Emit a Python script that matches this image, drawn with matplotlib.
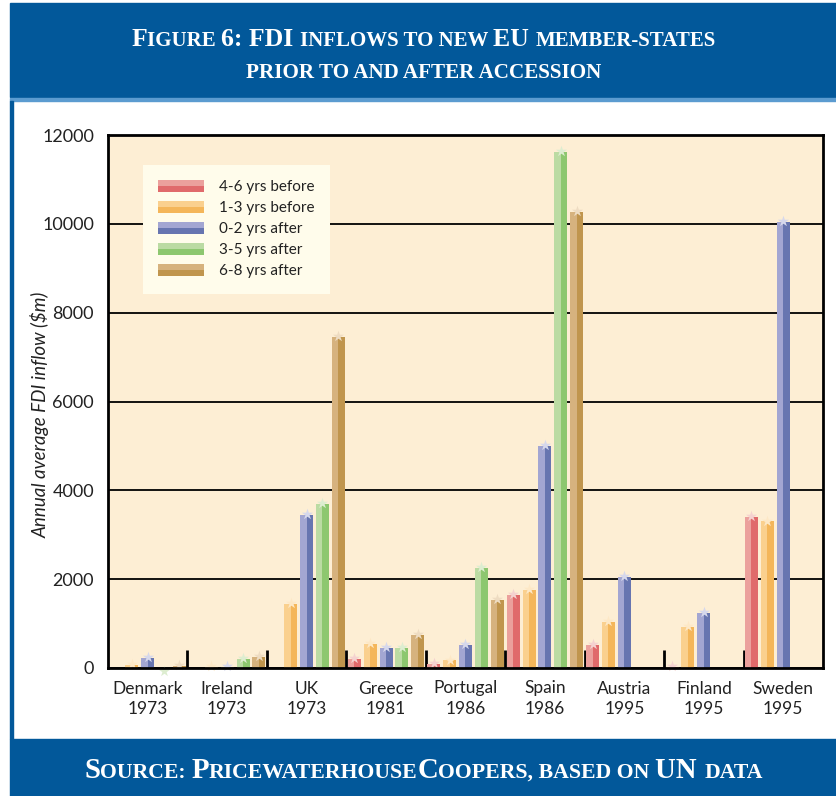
import matplotlib.pyplot as plt
import numpy as np
from matplotlib.patches import Rectangle, Patch
from matplotlib.legend_handler import HandlerBase

nan = np.nan
countries = ["Denmark\n1973", "Ireland\n1973", "UK\n1973", "Greece\n1981", "Portugal\n1986",
             "Spain\n1986", "Austria\n1995", "Finland\n1995", "Sweden\n1995"]
series = ["4-6 yrs before", "1-3 yrs before", "0-2 yrs after", "3-5 yrs after", "6-8 yrs after"]
before_4_6 = [nan, nan, nan, 200, 100, 1640, 520, 30, 3400]
before_1_3 = [70, 20, 1450, 550, 170, 1750, 1040, 920, 3300]
after_0_2 = [220, 30, 3450, 450, 520, 5000, 2050, 1240, 10050]
after_3_5 = [-90, 200, 3700, 450, 2250, 11620, nan, nan, nan]
after_6_8 = [50, 250, 7450, 750, 1530, 10270, nan, nan, nan]
values = [before_4_6, before_1_3, after_0_2, after_3_5, after_6_8]
yticks = [0, 2000, 4000, 6000, 8000, 10000, 12000]

light = ["#EBA09C", "#FAD08E", "#A3A6D2", "#BBDBA3", "#D6B27E"]
dark = ["#E06A6B", "#F4B65A", "#6775B0", "#8DC76F", "#C0954D"]
star = ["#F5D2D0", "#FDE8C6", "#D6D8EC", "#DDEDD0", "#EEDCC2"]

blue = "#02589A"
plt.rcParams['font.family'] = ['Lato', 'DejaVu Sans']

fig = plt.figure(figsize=(8.37, 7.96), dpi=100)
W, H = 837, 796

def px(x0, y0, w, h, **kw):
    fig.patches.append(Rectangle((x0 / W, 1 - (y0 + h) / H), w / W, h / H,
                                 transform=fig.transFigure, **kw))

px(10, 3, 827, 94, color=blue, zorder=0)
px(10, 98, 827, 3, color="#5B9BD0", zorder=0)
px(10, 101, 3, 638, color=blue, zorder=0)
px(10, 739, 827, 57, color=blue, zorder=0)

renderer = fig.canvas.get_renderer()

def smallcaps(segments, ycenter, big, small):
    texts = []
    for s, is_big in segments:
        t = fig.text(0, 1 - ycenter / H, s, fontsize=big if is_big else small,
                     family='Liberation Serif', weight='bold', color='white',
                     va='baseline', ha='left')
        texts.append(t)
    widths = [t.get_window_extent(renderer).width for t in texts]
    total = sum(widths)
    x = (W + 10) / 2 - total / 2
    for t, w in zip(texts, widths):
        t.set_x(x / W)
        x += w

smallcaps([("F", 1), ("IGURE ", 0), ("6: FDI ", 1), ("INFLOWS TO NEW ", 0), ("EU ", 1),
           ("MEMBER-STATES", 0)], 46, 18.5, 15)
smallcaps([("PRIOR TO AND AFTER ACCESSION", 0)], 78, 18.5, 15.2)
smallcaps([("S", 1), ("OURCE: ", 0), ("P", 1), ("RICEWATERHOUSE", 0), ("C", 1),
           ("OOPERS, BASED ON ", 0), ("UN ", 1), ("DATA", 0)], 778, 20.7, 15.7)

ax = fig.add_axes([108 / W, 1 - 668 / H, 715 / W, 533 / H])
ax.set_facecolor("#FDEED4")
x = np.arange(len(countries))
slot = 0.2
bw = 0.165
for i, vals in enumerate(values):
    v = np.array(vals, dtype=float)
    pos = x + (i - 2) * slot
    ok = ~np.isnan(v)
    ax.bar(pos[ok] - bw / 4, v[ok], width=bw / 2, color=light[i], zorder=3)
    ax.bar(pos[ok] + bw / 4, v[ok], width=bw / 2, color=dark[i], zorder=3)
    ax.scatter(pos[ok], v[ok] + 20, marker='*', s=70, color=star[i], zorder=4,
               clip_on=False, linewidths=0)

ax.set_xlim(-0.5, len(countries) - 0.5)
ax.set_ylim(0, 12000)
ax.set_yticks(yticks)
ax.set_yticklabels([str(t) for t in yticks])
ax.yaxis.grid(True, color='black', linewidth=1.3, zorder=1)
ax.set_axisbelow(True)
ax.tick_params(axis='y', length=0, pad=10, labelsize=13, labelcolor='#222222')
ax.set_xticks(x)
ax.set_xticklabels(countries, linespacing=1.35)
ax.tick_params(axis='x', length=0, pad=9, labelsize=12.5, labelcolor='#222222')
ax.set_xticks(np.arange(0.5, len(countries) - 1), minor=True)
ax.tick_params(axis='x', which='minor', direction='in', length=13, width=2, color='black')
for s in ax.spines.values():
    s.set_linewidth(2)
    s.set_zorder(5)
ax.set_ylabel("Annual average FDI inflow ($m)", fontsize=13.5, style='italic',
              color='#222222', va='center')
ax.yaxis.set_label_coords(-0.095, 0.475)


class TwoTone(HandlerBase):
    def create_artists(self, legend, orig_handle, xd, yd, width, height, fontsize, trans):
        lo, hi = orig_handle
        top = Rectangle((-xd, -yd + height / 2), width, height / 2,
                        facecolor=lo.get_facecolor(), edgecolor='none', transform=trans)
        bot = Rectangle((-xd, -yd), width, height / 2,
                        facecolor=hi.get_facecolor(), edgecolor='none', transform=trans)
        return [top, bot]


handles = [(Patch(color=light[i]), Patch(color=dark[i])) for i in range(len(series))]
leg = ax.legend(handles, series, handler_map={tuple: TwoTone()}, loc='upper left',
                bbox_to_anchor=(0.049, 0.944), borderaxespad=0, fontsize=11,
                handlelength=3.0, handleheight=0.8, labelspacing=0.45,
                handletextpad=1.0, borderpad=1.0, fancybox=False, framealpha=1,
                facecolor="#FFFCEB", edgecolor='none')
for t in leg.get_texts():
    t.set_color('#222222')
leg.set_zorder(6)

fig.savefig("out.png", dpi=100)
